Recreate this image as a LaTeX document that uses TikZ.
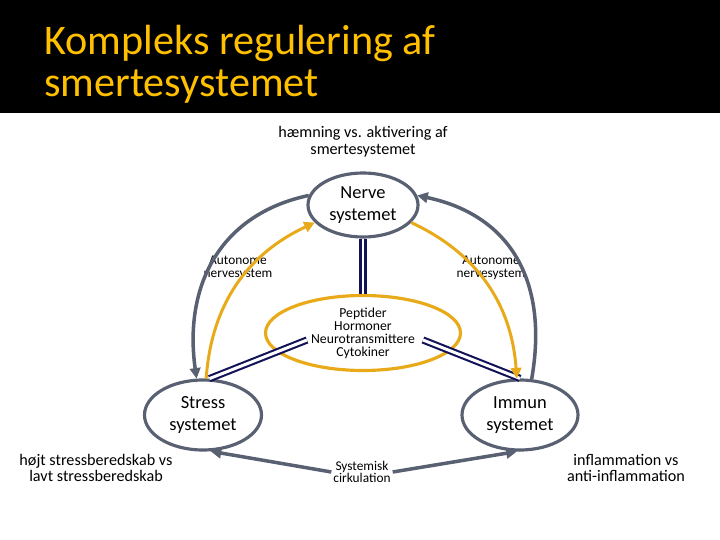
\documentclass[tikz,border=0pt]{standalone}
\usepackage{fontspec}
\setmainfont{Carlito}
\usetikzlibrary{shapes.geometric, arrows.meta, positioning, calc}
\definecolor{titleyellow}{RGB}{255,192,0}
\definecolor{slate}{RGB}{88,96,114}
\definecolor{amber}{RGB}{232,170,24}
\definecolor{navyline}{RGB}{18,18,88}

\begin{document}
\begin{tikzpicture}[
        system/.style={
            ellipse, draw=slate, line width=1.8pt, fill=white,
            align=center, font=\fontsize{10.5}{12.5}\selectfont, inner sep=0pt
        },
        carrier/.style={
            ellipse, draw=amber, line width=1.8pt,
            align=center, font=\fontsize{7.8}{7.4}\selectfont, inner sep=0pt
        },
        note/.style={
            align=center, font=\fontsize{7.6}{7.2}\selectfont, inner sep=1pt
        },
        remark/.style={
            align=center, font=\fontsize{9.2}{9.4}\selectfont, inner sep=1pt
        },
        link/.style={
            draw=navyline, line width=1.2pt, double=white, double distance=1.7pt
        },
        feed/.style={
            draw=amber, line width=1.7pt, -{Triangle[length=6pt, width=6pt]}
        },
        loop/.style={
            draw=slate, line width=2pt, -{Triangle[length=6pt, width=6pt]}
        }
    ]
        \useasboundingbox (0, 0) rectangle (14.4, -10.8);

        % ----------------------------------------------------
        % HEADER
        % ----------------------------------------------------
        \fill[black] (0, 0) rectangle (14.4, -2.26);
        \node[anchor=base west, text=titleyellow, font=\fontsize{24}{28}\selectfont, inner sep=0pt] (title1) at (0.88, -1.1) {Kompleks regulering af};
        \node[anchor=base west, text=titleyellow, font=\fontsize{24}{28}\selectfont, inner sep=0pt] (title2) at (0.88, -1.94) {smertesystemet};

        \node[remark] (sub) at (7.26, -2.83) {hæmning vs. aktivering af\\smertesystemet};

        % ----------------------------------------------------
        % SYSTEMS
        % ----------------------------------------------------
        \node[system, minimum width=2.2cm, minimum height=1.28cm] (nerve) at (7.26, -4.1) {Nerve\\systemet};
        \node[carrier, minimum width=3.9cm, minimum height=1.5cm] (pep) at (7.26, -6.66) {Peptider\\Hormoner\\Neurotransmittere\\Cytokiner};
        \node[system, minimum width=2.34cm, minimum height=1.4cm] (stress) at (4.06, -8.3) {Stress\\systemet};
        \node[system, minimum width=2.32cm, minimum height=1.4cm] (immun) at (10.4, -8.3) {Immun\\systemet};

        \node[note] (autoL) at (4.76, -5.36) {Autonome\\nervesystem};
        \node[note] (autoR) at (9.82, -5.36) {Autonome\\nervesystem};
        \node[note] (sys) at (7.24, -9.44) {Systemisk\\cirkulation};

        \node[remark] (stressnote) at (1.92, -9.36) {højt stressberedskab vs\\lavt stressberedskab};
        \node[remark] (immunnote) at (12.52, -9.36) {inflammation vs\\anti-inflammation};

        % ----------------------------------------------------
        % CONNECTIONS
        % ----------------------------------------------------
        \coordinate (pepL) at (6.14, -6.8);
        \coordinate (pepR) at (8.46, -6.8);

        \draw[link] (nerve.south) -- (pep.north);
        \draw[link] (pepL) -- (stress.80);
        \draw[link] (pepR) -- (immun.north);

        % Autonomic pathways
        \draw[feed] (stress.85) to[out=86, in=205] (nerve.200);
        \draw[feed] (nerve.-20) to[out=-25, in=94] (immun.95);

        % Outer feedback loops
        \draw[loop] (nerve.170) to[out=192, in=98, looseness=1.1] (stress.100);
        \draw[loop] (immun.72) to[out=80, in=-12, looseness=1.15] (nerve.10);

        % Systemic circulation
        \draw[loop] (sys.west) -- (stress.-78);
        \draw[loop] (sys.east) -- (immun.-95);

    \end{tikzpicture}
\end{document}
